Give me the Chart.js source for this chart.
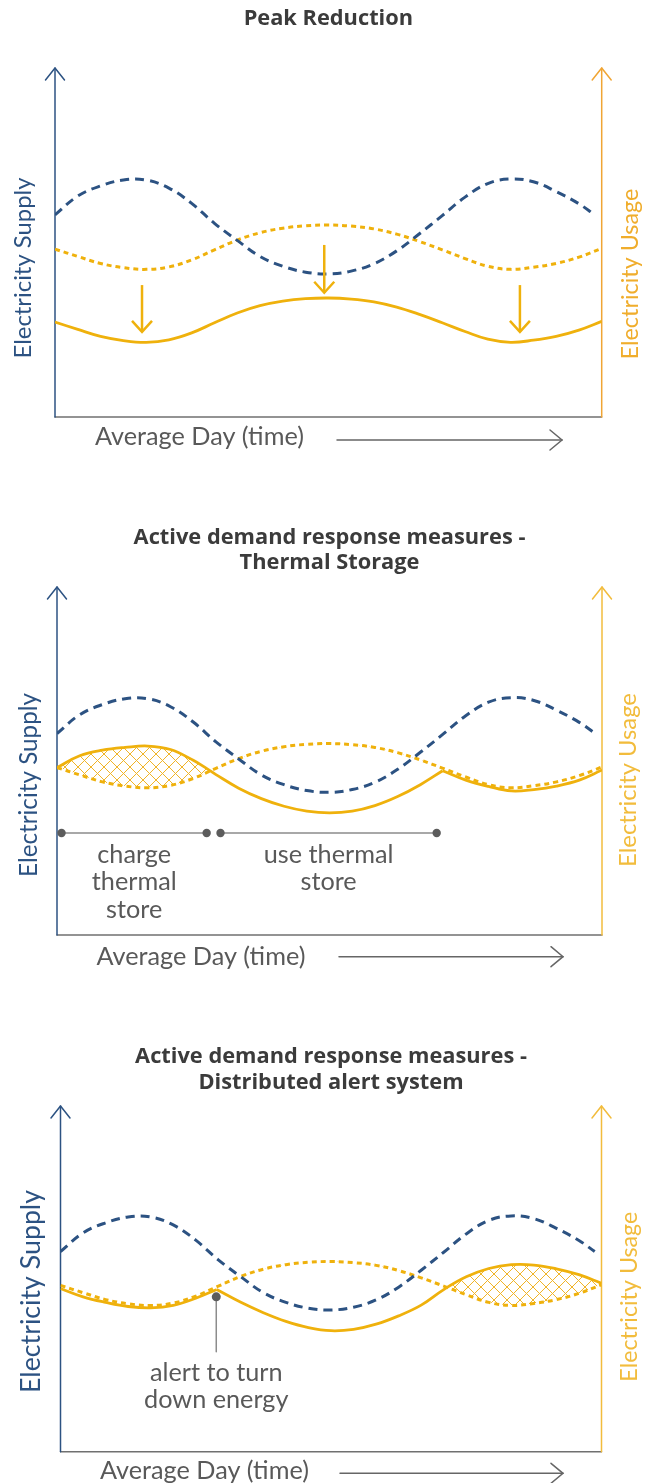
<!DOCTYPE html>
<html>
<head>
<meta charset="UTF-8">
<title>Peak reduction and active demand response</title>
<script src="https://cdn.jsdelivr.net/npm/chart.js"></script>
<style>
  body { margin: 0; background: #fff; }
  canvas { position: absolute; left: 0; }
</style>
</head>
<body>
<canvas id="peak" width="653" height="470" style="top:0px"></canvas>
<canvas id="thermal" width="653" height="470" style="top:520px"></canvas>
<canvas id="alert" width="653" height="443" style="top:1040px"></canvas>
<script>
// x = hour of an average day (0-24), y = relative level (0 = time axis, 100 = arrow tip)
const hours = [0,1,2,3,4,5,6,7,8,9,10,11,12,13,14,15,16,17,18,19,20,21,22,23,24];
const supplyHours = [0,1,2,3,4,5,6,7,8,9,10,11,12,13,14,15,16,17,18,19,20,21,22,23,23.7];
const supply = [57.9,63.3,66.2,67.9,67.9,65.6,61.2,55.5,50.6,46.0,43.2,41.5,41.0,41.8,43.9,47.6,52.5,57.7,63.0,66.9,68.2,67.4,64.6,61.1,57.9];
const usage = [48.1,46.0,44.0,42.8,42.3,43.0,45.0,47.9,50.7,52.8,54.1,54.8,55.0,54.7,53.9,52.4,50.3,47.9,45.4,43.2,42.3,42.9,44.0,45.8,48.3];
const usageReduced = [27.2,25.1,23.1,21.9,21.4,22.1,24.1,27.0,29.8,31.9,33.2,33.9,34.1,33.8,33.0,31.5,29.4,27.0,24.5,22.3,21.4,22.0,23.1,24.9,27.4];

// thermal storage: charge before the first crossing, use the store until the kink
const thermalHoursA = [0,1,2,3,4,5,6,6.6,7,8,9,10,11,12,13,14,15,16,16.98];
const thermalA = [48.1,51.5,53.1,53.9,54.3,53.3,50.2,47.8,46.1,42.2,39.2,37.0,35.6,35.1,35.6,37.2,39.8,43.2,47.2];
const thermalHoursB = [16.98,18,19,20,21,22,23,24];
const thermalB = [47.2,44.5,42.7,41.4,41.8,42.8,44.5,47.4];

// distributed alert system
const alertHoursA = [0,1,2,3,4,5,6,6.93];
const alertA = [47.2,44.8,43.2,42.0,41.6,42.3,44.4,46.9];
const alertHoursB = [6.93,8,9,10,11,12,13,14,15,16,17,18,19,20,21,22,23,24];
const alertB = [46.9,43.2,40.2,37.7,35.9,35.0,35.4,36.9,39.3,42.4,46.9,50.6,53.0,54.1,54.0,52.9,51.2,48.7];

// annotations
const peakArrowHours = [3.82, 11.82, 20.41];
const peakArrowFrom = [37.8, 49.3, 37.8];
const peakArrowTo = [24.4, 35.6, 24.4];
const storeSpans = [[0.2, 6.59], [7.2, 16.72]];
const storeLevel = 29.3;
const storeLabels = [['charge', 'thermal', 'store'], ['use thermal', 'store']];
const storeLabelHours = [3.4, 11.96];
const storeLabelLevels = [23.0, 15.3, 7.2];
const alertHour = 6.91;
const alertDotLevel = 44.8;
const alertLineEnd = 28.9;
const alertLabel = ['alert to turn', 'down energy'];
const alertLabelLevels = [22.7, 14.9];

const NAVY = '#2c5282';
const GOLD = '#efb10c';
const GREY = '#595959';
const BODY = "Lato, 'Open Sans', sans-serif";
const HEAD = "'Open Sans', Lato, sans-serif";

function fitSize(text, width, weight, family) {
  const c = document.createElement('canvas').getContext('2d');
  c.font = weight + ' 100px ' + family;
  return 100 * width / c.measureText(text).width;
}
const titleSize = fitSize('Active demand response measures -', 392, 'bold', HEAD);
const bodySize = fitSize('Average Day (time)', 209, 'normal', BODY);

function hatch(color) {
  const s = 13;
  const c = document.createElement('canvas');
  c.width = s; c.height = s;
  const x = c.getContext('2d');
  x.strokeStyle = color;
  x.lineWidth = 1;
  x.beginPath();
  x.moveTo(-1, -1); x.lineTo(s + 1, s + 1);
  x.moveTo(s + 1, -1); x.lineTo(-1, s + 1);
  x.stroke();
  return x.createPattern(c, 'repeat');
}
const hatchFill = hatch('#f0b428');

function pts(xs, ys) { return xs.map((h, i) => ({x: h, y: ys[i]})); }

function seg(ctx, x1, y1, x2, y2) {
  ctx.beginPath(); ctx.moveTo(x1, y1); ctx.lineTo(x2, y2); ctx.stroke();
}
function chevron(ctx, x, y, dx, dy, len, half) {
  const bx = x - dx * len, by = y - dy * len;
  ctx.beginPath();
  ctx.moveTo(bx - dy * half, by + dx * half);
  ctx.lineTo(x, y);
  ctx.lineTo(bx + dy * half, by - dx * half);
  ctx.stroke();
}
function vtext(ctx, text, x, y, size, color) {
  ctx.save();
  ctx.translate(x, y);
  ctx.rotate(-Math.PI / 2);
  ctx.font = size + 'px ' + BODY;
  ctx.fillStyle = color;
  ctx.textAlign = 'center';
  ctx.textBaseline = 'middle';
  ctx.fillText(text, 0, 0);
  ctx.restore();
}

function makeDiagram(cfg, extra) {
  return {
    id: 'diagram',
    beforeDatasetsDraw(chart) {
      const {ctx, chartArea: a} = chart;
      ctx.save();
      ctx.lineWidth = 1.5;
      ctx.lineCap = 'round';
      ctx.lineJoin = 'round';
      ctx.strokeStyle = '#707070';
      seg(ctx, a.left, a.bottom, a.right, a.bottom);
      ctx.strokeStyle = NAVY;
      seg(ctx, a.left, a.bottom, a.left, a.top);
      chevron(ctx, a.left, a.top, 0, -1, 12, 9.5);
      ctx.strokeStyle = cfg.usageAxis;
      seg(ctx, a.right, a.bottom, a.right, a.top);
      chevron(ctx, a.right, a.top, 0, -1, 12, 9.5);
      ctx.restore();
    },
    afterDraw(chart) {
      const {ctx, chartArea: a} = chart;
      ctx.save();
      vtext(ctx, 'Electricity Supply', a.left - cfg.supplyGap, cfg.supplyY,
        fitSize('Electricity Supply', cfg.supplyLen, 'normal', BODY), NAVY);
      vtext(ctx, 'Electricity Usage', a.right + cfg.usageGap, cfg.usageY,
        fitSize('Electricity Usage', cfg.usageLen, 'normal', BODY), cfg.usageText);
      ctx.font = bodySize + 'px ' + BODY;
      ctx.fillStyle = GREY;
      ctx.textAlign = 'left';
      ctx.textBaseline = 'middle';
      ctx.fillText('Average Day (time)', cfg.dayX, a.bottom + cfg.dayDy);
      ctx.strokeStyle = '#666';
      ctx.lineWidth = 1.5;
      ctx.lineCap = 'round';
      const ay = a.bottom + cfg.arrowDy;
      seg(ctx, cfg.arrowX[0], ay, cfg.arrowX[1], ay);
      chevron(ctx, cfg.arrowX[1], ay, 1, 0, 12, 10);
      if (extra) extra(chart, ctx);
      ctx.restore();
    }
  };
}

function panel(id, cfg, datasets, extra) {
  return new Chart(document.getElementById(id), {
    type: 'line',
    data: {datasets: datasets},
    options: {
      responsive: false,
      animation: false,
      events: [],
      layout: {padding: cfg.padding},
      scales: {
        x: {type: 'linear', min: 0, max: 24, display: false},
        y: {min: 0, max: 100, display: false}
      },
      elements: {
        point: {radius: 0},
        line: {tension: 0.4, borderWidth: 2.8}
      },
      plugins: {
        legend: {display: false},
        tooltip: {enabled: false},
        title: {
          display: true,
          text: cfg.title,
          color: '#3b3b3b',
          font: {family: HEAD, weight: 'bold', size: titleSize, lineHeight: cfg.titleLine},
          padding: cfg.titlePadding
        }
      }
    },
    plugins: [makeDiagram(cfg, extra)]
  });
}

function baseLines() {
  return [
    {data: pts(supplyHours, supply), borderColor: NAVY, borderWidth: 3, borderDash: [9, 6], fill: false},
    {data: pts(hours, usage), borderColor: GOLD, borderWidth: 3, borderDash: [5, 4], fill: false}
  ];
}

// Peak Reduction
panel('peak', {
  title: 'Peak Reduction', titleLine: '24px', titlePadding: {top: 7, bottom: 37},
  padding: {left: 55, right: 51.3, top: 0, bottom: 53},
  usageAxis: '#f0a534', usageText: '#f0ad2c',
  supplyGap: 32, supplyY: 268, supplyLen: 181,
  usageGap: 29, usageY: 274, usageLen: 171,
  dayX: 95, dayDy: 19.7, arrowX: [337, 562], arrowDy: 23
}, baseLines().concat([
  {data: pts(hours, usageReduced), borderColor: GOLD, fill: false}
]), function (chart, ctx) {
  const x = chart.scales.x, y = chart.scales.y;
  ctx.strokeStyle = GOLD;
  ctx.lineWidth = 2.5;
  ctx.lineCap = 'butt';
  peakArrowHours.forEach((h, i) => {
    const px = x.getPixelForValue(h);
    const y0 = y.getPixelForValue(peakArrowFrom[i]);
    const y1 = y.getPixelForValue(peakArrowTo[i]);
    seg(ctx, px, y0, px, y1);
    chevron(ctx, px, y1, 0, 1, 11, 10);
  });
});

// Thermal Storage
panel('thermal', {
  title: ['Active demand response measures -', 'Thermal Storage'], titleLine: '25px',
  titlePadding: {top: 5.5, bottom: 11.5},
  padding: {left: 57, right: 51, top: 0, bottom: 55},
  usageAxis: '#f2bc3c', usageText: '#f2bc3c',
  supplyGap: 28, supplyY: 265, supplyLen: 184,
  usageGap: 26, usageY: 260, usageLen: 174,
  dayX: 96.5, dayDy: 21.7, arrowX: [339, 563], arrowDy: 21.7
}, baseLines().concat([
  {data: pts(thermalHoursA, thermalA), borderColor: GOLD,
   fill: {target: 1, above: hatchFill, below: 'rgba(0,0,0,0)'}},
  {data: pts(thermalHoursB, thermalB), borderColor: GOLD, fill: false}
]), function (chart, ctx) {
  const x = chart.scales.x, y = chart.scales.y;
  const ly = y.getPixelForValue(storeLevel);
  ctx.strokeStyle = '#8c8c8c';
  ctx.lineWidth = 1.5;
  ctx.fillStyle = '#5c5c5c';
  storeSpans.forEach(s => {
    const x0 = x.getPixelForValue(s[0]), x1 = x.getPixelForValue(s[1]);
    seg(ctx, x0, ly, x1, ly);
    [x0, x1].forEach(px => { ctx.beginPath(); ctx.arc(px, ly, 4.2, 0, Math.PI * 2); ctx.fill(); });
  });
  ctx.font = bodySize + 'px ' + BODY;
  ctx.fillStyle = GREY;
  ctx.textAlign = 'center';
  ctx.textBaseline = 'middle';
  storeLabels.forEach((lines, i) => {
    lines.forEach((t, j) => {
      ctx.fillText(t, x.getPixelForValue(storeLabelHours[i]), y.getPixelForValue(storeLabelLevels[j]));
    });
  });
});

// Distributed alert system
panel('alert', {
  title: ['Active demand response measures -', 'Distributed alert system'], titleLine: '26px',
  titlePadding: {top: 4, bottom: 10},
  padding: {left: 60.5, right: 51.5, top: 0, bottom: 31.3},
  usageAxis: '#f2bc3c', usageText: '#f2bc3c',
  supplyGap: 29.5, supplyY: 251.5, supplyLen: 203,
  usageGap: 28.5, usageY: 256.7, usageLen: 170,
  dayX: 100, dayDy: 19, arrowX: [340, 563], arrowDy: 21.6
}, baseLines().concat([
  {data: pts(alertHoursA, alertA), borderColor: GOLD, fill: false},
  {data: pts(alertHoursB, alertB), borderColor: GOLD,
   fill: {target: 1, above: hatchFill, below: 'rgba(0,0,0,0)'}}
]), function (chart, ctx) {
  const x = chart.scales.x, y = chart.scales.y;
  const px = x.getPixelForValue(alertHour);
  const dotY = y.getPixelForValue(alertDotLevel);
  ctx.strokeStyle = '#8c8c8c';
  ctx.lineWidth = 1.5;
  seg(ctx, px, dotY, px, y.getPixelForValue(alertLineEnd));
  ctx.fillStyle = '#5c5c5c';
  ctx.beginPath(); ctx.arc(px, dotY, 4.5, 0, Math.PI * 2); ctx.fill();
  ctx.font = bodySize + 'px ' + BODY;
  ctx.fillStyle = GREY;
  ctx.textAlign = 'center';
  ctx.textBaseline = 'middle';
  alertLabel.forEach((t, j) => ctx.fillText(t, px, y.getPixelForValue(alertLabelLevels[j])));
});
</script>
</body>
</html>
